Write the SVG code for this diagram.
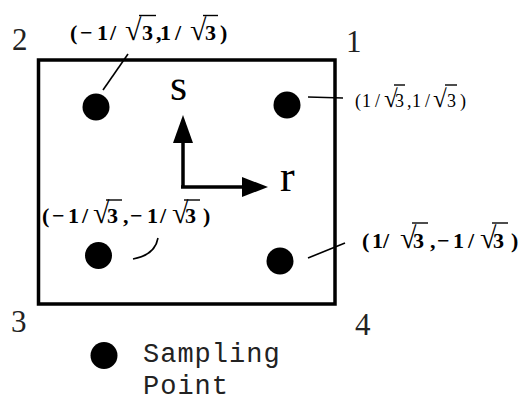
<svg xmlns="http://www.w3.org/2000/svg" width="519" height="403" viewBox="0 0 519 403">
<style>
.dot{fill:#000}
.lead{stroke:#000;stroke-width:1.6;fill:none}
.vin{stroke:#000;stroke-width:1.4}
.corner{font-family:"Liberation Serif",serif;font-size:31px;fill:#222}
.lab{font-family:"Liberation Serif",serif;font-size:22px;font-weight:bold;fill:#000}
.labr{font-family:"Liberation Serif",serif;font-size:18px;fill:#000}
.rad{font-size:30px;font-weight:normal}
.radr{font-size:25px}
.axl{font-family:"Liberation Serif",serif;font-size:44px;fill:#000}
.leg{font-family:"Liberation Mono",monospace;font-size:27px;letter-spacing:1px;fill:#222}
.ax{stroke:#000;stroke-width:3.5}
</style>
<rect id="element" x="38.5" y="60" width="296.5" height="244" fill="none" stroke="#000" stroke-width="3.5"/>
<g id="corners">
<text class="corner" x="12" y="50">2</text>
<text class="corner" x="346" y="52">1</text>
<text class="corner" x="11" y="332">3</text>
<text class="corner" x="355" y="335">4</text>
</g>
<g id="axes">
<line class="ax" x1="183" y1="188" x2="183" y2="140"/>
<polygon points="183,115 173,143 193,143"/>
<line class="ax" x1="181" y1="187" x2="245" y2="187"/>
<polygon points="268,187 242,177 242,197"/>
<text class="axl" x="170" y="100">s</text>
<text class="axl" x="280" y="191">r</text>
</g>
<g id="point-2">
<circle class="dot" cx="96" cy="107" r="13.5"/>
<text class="lab" y="40"><tspan x="70 80 97 110">(−1/</tspan><tspan class="rad" x="125">√</tspan><tspan x="142 156 160 175">3,1/</tspan><tspan class="rad" x="190">√</tspan><tspan x="205 220">3)</tspan></text>
<line class="vin" x1="139" y1="15.5" x2="156" y2="15.5"/>
<line class="vin" x1="203" y1="15.5" x2="218" y2="15.5"/>
</g>
<g id="point-1">
<circle class="dot" cx="287" cy="105" r="13.5"/>
<text class="labr" y="107"><tspan x="355 362 375">(1/</tspan><tspan class="radr" x="384">√</tspan><tspan x="395 407 412 425">3,1/</tspan><tspan class="radr" x="433">√</tspan><tspan x="447 460">3)</tspan></text>
<line class="vin" x1="394" y1="85" x2="405" y2="85"/>
<line class="vin" x1="445" y1="85" x2="457" y2="85"/>
</g>
<g id="point-3">
<circle class="dot" cx="98.5" cy="255.5" r="13.5"/>
<text class="lab" y="223"><tspan x="42 52 68 82">(−1/</tspan><tspan class="rad" x="93">√</tspan><tspan x="107 123 130 147 160">3,−1/</tspan><tspan class="rad" x="172">√</tspan><tspan x="185 203">3)</tspan></text>
<line class="vin" x1="106" y1="200" x2="122" y2="200"/>
<line class="vin" x1="184" y1="200" x2="200" y2="200"/>
</g>
<g id="point-4">
<circle class="dot" cx="280" cy="261" r="13.5"/>
<text class="lab" y="248"><tspan x="362 372 383">(1/</tspan><tspan class="rad" x="400">√</tspan><tspan x="413 430 437 453 468">3,−1/</tspan><tspan class="rad" x="480">√</tspan><tspan x="493 511">3)</tspan></text>
<line class="vin" x1="412" y1="223" x2="428" y2="223"/>
<line class="vin" x1="492" y1="223" x2="508" y2="223"/>
</g>
<g id="connectors">
<line class="lead" x1="128" y1="54" x2="103" y2="90"/>
<line class="lead" x1="308" y1="97" x2="343" y2="98"/>
<path class="lead" d="M133,259 Q155,255 158,238"/>
<line class="lead" x1="308" y1="258" x2="345" y2="243"/>
</g>
<g id="legend">
<circle class="dot" cx="104" cy="355.5" r="13.5"/>
<text class="leg" x="143" y="362">Sampling</text>
<text class="leg" x="143" y="394">Point</text>
</g>
</svg>
